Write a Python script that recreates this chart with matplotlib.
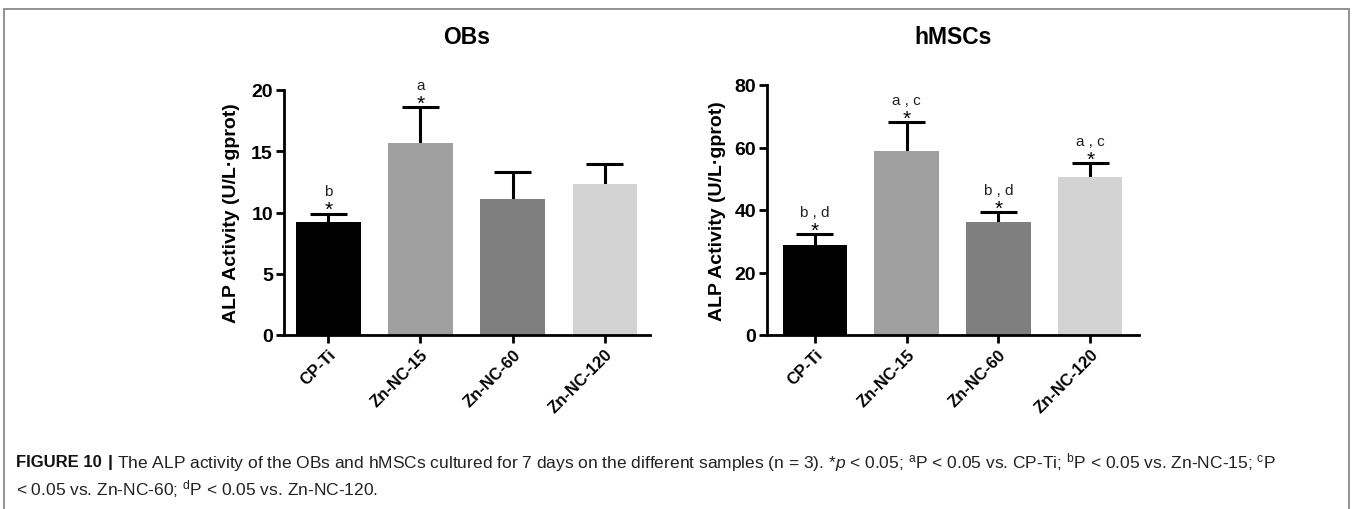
import matplotlib
matplotlib.use("Agg")
import matplotlib.pyplot as plt
from matplotlib.patches import Rectangle

plt.rcParams['font.family'] = ['Liberation Sans', 'DejaVu Sans']
plt.rcParams['mathtext.fontset'] = 'custom'
plt.rcParams['mathtext.rm'] = 'Liberation Sans'
plt.rcParams['mathtext.it'] = 'Liberation Sans:italic'

samples = ['CP-Ti', 'Zn-NC-15', 'Zn-NC-60', 'Zn-NC-120']
bar_colors = ['#000000', '#a0a0a0', '#7f7f7f', '#d3d3d3']

obs_mean = [9.2, 15.7, 11.1, 12.3]
obs_err = [0.7, 2.9, 2.2, 1.7]
obs_marks = ['b', 'a', '', '']

msc_mean = [28.7, 58.9, 36.1, 50.6]
msc_err = [3.6, 9.2, 3.3, 4.4]
msc_marks = ['b,d', 'a,c', 'b,d', 'a,c']

W, H = 1352, 510
fig = plt.figure(figsize=(W / 100, H / 100), dpi=100)

# outer frame of the figure box
fig.patches.append(Rectangle((4 / W, -0.05), 1345 / W, 1.05 - 10 / H,
                             transform=fig.transFigure, fill=False,
                             edgecolor='#8a8a8a', linewidth=1.3))


def panel(rect, means, errs, marks, ymax, step, title, title_x, ylab_pad, xl):
    ax = fig.add_axes(rect)
    x = list(range(len(samples)))
    tops = [m + e for m, e in zip(means, errs)]
    ax.bar(x, means, width=0.7, color=bar_colors, edgecolor='none', zorder=2)
    # upper error bar only, no cap at the bar top
    ax.vlines(x, means, tops, color='black', linewidth=2.2, zorder=1)
    ax.hlines(tops, [i - 0.2 for i in x], [i + 0.2 for i in x], color='black',
              linewidth=2.2, zorder=1)
    ax.set_ylim(0, ymax)
    ax.set_xlim(*xl)
    ax.set_yticks(range(0, ymax + 1, step))
    ax.set_xticks(x)
    ax.set_xticklabels(samples, rotation=45, ha='right', rotation_mode='anchor',
                       fontsize=12, fontweight='bold')
    for lab in ax.get_yticklabels():
        lab.set_fontsize(14)
        lab.set_fontweight('bold')
    for s in ['top', 'right']:
        ax.spines[s].set_visible(False)
    for s in ['left', 'bottom']:
        ax.spines[s].set_linewidth(2)
    ax.tick_params(width=2, length=6, pad=2)
    ax.set_ylabel('ALP Activity (U/L·gprot)', fontsize=14, fontweight='bold',
                  labelpad=ylab_pad)
    for i, m in enumerate(marks):
        if m:
            ax.annotate('*', (i, tops[i]), xytext=(0, -4), textcoords='offset points',
                        ha='center', va='bottom', fontsize=15)
            ax.annotate(m.replace(',', ' , ') if ',' in m else m, (i, tops[i]),
                        xytext=(0, 11), textcoords='offset points',
                        ha='center', va='bottom', fontsize=11, color='#222222')
    fig.text(title_x, 1 - 37 / H, title, ha='center', va='center',
             fontsize=16.5, fontweight='bold')
    return ax


panel([284 / W, 1 - 336 / H, 366 / W, 245 / H], obs_mean, obs_err, obs_marks,
      20, 5, 'OBs', 467 / W, 8, (-0.48, 3.49))
panel([767 / W, 1 - 336 / H, 372 / W, 250 / H], msc_mean, msc_err, msc_marks,
      80, 20, 'hMSCs', 953 / W, 6, (-0.52, 3.53))

fig.text(16 / W, 1 - 463 / H, 'FIGURE 10', fontsize=12, fontweight='bold',
         va='center', ha='left', color='#111111')
fig.text(108 / W, 1 - 463 / H, '|', fontsize=12.5, fontweight='bold',
         va='center', ha='left', color='#111111')
line1 = (r'The ALP activity of the OBs and hMSCs cultured for 7 days on the different '
         r'samples (n = 3). *$\it{p}$ < 0.05; $^{\rm a}$P < 0.05 vs. CP-Ti; '
         r'$^{\rm b}$P < 0.05 vs. Zn-NC-15; $^{\rm c}$P')
line2 = r'< 0.05 vs. Zn-NC-60; $^{\rm d}$P < 0.05 vs. Zn-NC-120.'
fig.text(117 / W, 1 - 463 / H, line1, fontsize=12.5, va='center', ha='left',
         color='#222222')
fig.text(16 / W, 1 - 489 / H, line2, fontsize=12.5, va='center', ha='left',
         color='#222222')

fig.savefig('out.png', dpi=100)
